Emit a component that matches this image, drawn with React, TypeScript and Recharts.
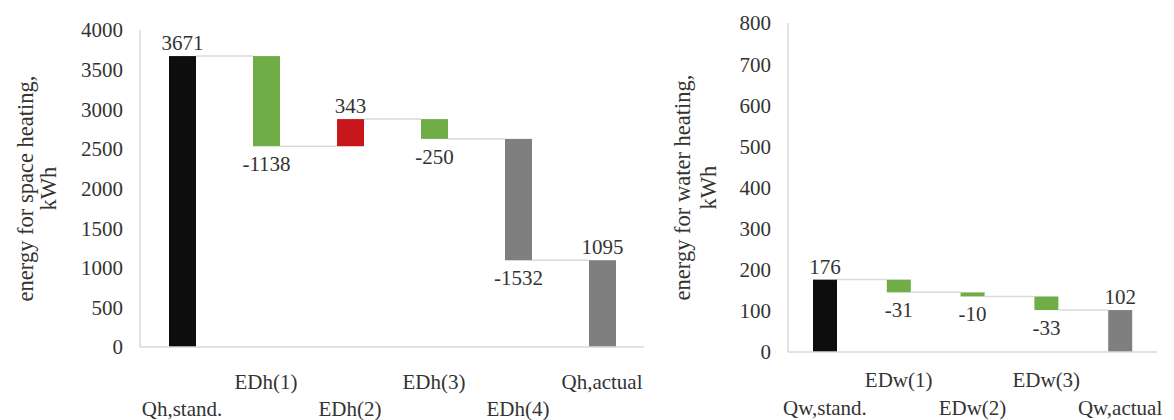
import React from 'react';
import { BarChart, Bar, XAxis, YAxis, LabelList } from 'recharts';

// space heating waterfall
const spaceCategories = ['Qh,stand.', 'EDh(1)', 'EDh(2)', 'EDh(3)', 'EDh(4)', 'Qh,actual'];
const spaceValues = [3671, -1138, 343, -250, -1532, 1095];
const spaceIsTotal = [true, false, false, false, false, true];
const spaceTicks = [0, 500, 1000, 1500, 2000, 2500, 3000, 3500, 4000];

// water heating waterfall
const waterCategories = ['Qw,stand.', 'EDw(1)', 'EDw(2)', 'EDw(3)', 'Qw,actual'];
const waterValues = [176, -31, -10, -33, 102];
const waterIsTotal = [true, false, false, false, true];
const waterTicks = [0, 100, 200, 300, 400, 500, 600, 700, 800];

const spaceColors = ['#0d0d0d', '#70ad47', '#c8161d', '#70ad47', '#7f7f7f', '#7f7f7f'];
const waterColors = ['#0d0d0d', '#70ad47', '#70ad47', '#70ad47', '#7f7f7f'];

const FONT = '"Liberation Serif", "DejaVu Serif", serif';
const FS = 21;
const TEXT = '#333333';
const GRID = '#d9d9d9';

function buildRows(categories: string[], values: number[], isTotal: boolean[]) {
  let running = 0;
  return categories.map((name, i) => {
    const v = values[i];
    if (isTotal[i]) {
      running = v;
      return { name, base: 0, size: v, delta: v, total: true };
    }
    const start = running;
    const end = running + v;
    running = end;
    return { name, base: Math.min(start, end), size: Math.abs(v), delta: v, total: false };
  });
}

const makeShape = (categories: string[], colors: string[], step: number) => (props: any) => {
  const { x, y, width, height, payload } = props;
  const i = categories.indexOf(payload.name);
  // level where the running total ends after this bar
  const levelY = !payload.total && payload.delta < 0 ? y + height : y;
  return (
    <g>
      <rect x={x} y={y} width={width} height={height} fill={colors[i]} />
      {i < categories.length - 1 && (
        <line x1={x + width} x2={x + step} y1={levelY} y2={levelY} stroke={GRID} strokeWidth={1.5} />
      )}
    </g>
  );
};

const ValueLabel = (props: any) => {
  const { x, y, width, height, value } = props;
  const below = value < 0;
  return (
    <text
      x={x + width / 2}
      y={below ? y + height + 18 : y - 13}
      textAnchor="middle"
      dominantBaseline="central"
      fontFamily={FONT}
      fontSize={FS}
      fill={TEXT}
    >
      {value}
    </text>
  );
};

const makeXTick = (upper: number, lower: number) => (props: any) => {
  const { x, y, payload } = props;
  const idx = payload.index ?? props.index;
  return (
    <text
      x={x}
      y={y + (idx % 2 === 1 ? upper : lower)}
      textAnchor="middle"
      dominantBaseline="central"
      fontFamily={FONT}
      fontSize={FS}
      fill={TEXT}
    >
      {payload.value}
    </text>
  );
};

const makeYLabel = (line1: string, line2: string, x1: number, x2: number) => (props: any) => {
  const vb = props.viewBox;
  const cy = vb.y + vb.height / 2;
  return (
    <g fontFamily={FONT} fontSize={22.5} fill={TEXT}>
      <text x={x1} y={cy} textAnchor="middle" dominantBaseline="central" transform={`rotate(-90, ${x1}, ${cy})`}>
        {line1}
      </text>
      <text x={x2} y={cy} textAnchor="middle" dominantBaseline="central" transform={`rotate(-90, ${x2}, ${cy})`}>
        {line2}
      </text>
    </g>
  );
};

interface WaterfallProps {
  categories: string[];
  values: number[];
  isTotal: boolean[];
  colors: string[];
  ticks: number[];
  width: number;
  yAxisWidth: number;
  marginTop: number;
  marginRight: number;
  xAxisHeight: number;
  barSize: number;
  label: [string, string];
  labelX: [number, number];
  tickRows: [number, number];
}

function Waterfall(p: WaterfallProps) {
  const data = buildRows(p.categories, p.values, p.isTotal);
  const plotWidth = p.width - p.yAxisWidth - p.marginRight;
  const step = plotWidth / p.categories.length;
  return (
    <BarChart
      width={p.width}
      height={420}
      data={data}
      barSize={p.barSize}
      margin={{ top: p.marginTop, right: p.marginRight, bottom: 0, left: 0 }}
    >
      <XAxis
        dataKey="name"
        interval={0}
        height={p.xAxisHeight}
        tickLine={false}
        tickSize={0}
        tickMargin={0}
        axisLine={{ stroke: GRID, strokeWidth: 1.5 }}
        tick={makeXTick(p.tickRows[0], p.tickRows[1])}
      />
      <YAxis
        width={p.yAxisWidth}
        domain={[p.ticks[0], p.ticks[p.ticks.length - 1]]}
        ticks={p.ticks}
        interval={0}
        tickLine={false}
        tickSize={0}
        tickMargin={17}
        axisLine={{ stroke: GRID, strokeWidth: 1.5 }}
        tick={{ fontFamily: FONT, fontSize: FS, fill: TEXT }}
        label={{ content: makeYLabel(p.label[0], p.label[1], p.labelX[0], p.labelX[1]) } as any}
      />
      <Bar dataKey="base" stackId="w" fill="transparent" isAnimationActive={false} />
      <Bar
        dataKey="size"
        stackId="w"
        isAnimationActive={false}
        shape={makeShape(p.categories, p.colors, step)}
      >
        <LabelList dataKey="delta" content={ValueLabel} />
      </Bar>
    </BarChart>
  );
}

export default function App() {
  return (
    <div style={{ position: 'absolute', left: 0, top: 0, width: 1174, height: 420, background: '#fff' }}>
      <div style={{ position: 'absolute', left: 0, top: 0 }}>
        <Waterfall
          categories={spaceCategories}
          values={spaceValues}
          isTotal={spaceIsTotal}
          colors={spaceColors}
          ticks={spaceTicks}
          width={660}
          yAxisWidth={140}
          marginTop={30}
          marginRight={16}
          xAxisHeight={73}
          barSize={27}
          label={['energy for space heating,', 'kWh']}
          labelX={[25, 48]}
          tickRows={[35, 62]}
        />
      </div>
      <div style={{ position: 'absolute', left: 660, top: 0 }}>
        <Waterfall
          categories={waterCategories}
          values={waterValues}
          isTotal={waterIsTotal}
          colors={waterColors}
          ticks={waterTicks}
          width={514}
          yAxisWidth={128}
          marginTop={23}
          marginRight={17}
          xAxisHeight={68}
          barSize={24}
          label={['energy for water heating,', 'kWh']}
          labelX={[22, 48]}
          tickRows={[28, 56]}
        />
      </div>
    </div>
  );
}
